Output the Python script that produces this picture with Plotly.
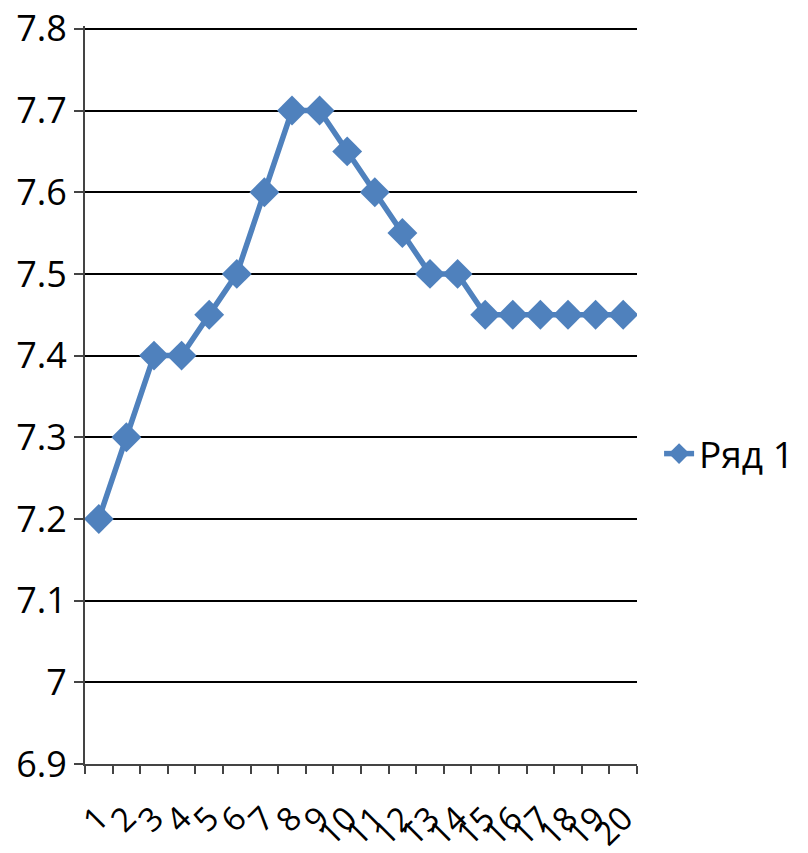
import plotly.graph_objects as go

categories = [str(i) for i in range(1, 21)]
values = [7.2, 7.3, 7.4, 7.4, 7.45, 7.5, 7.6, 7.7, 7.7, 7.65,
          7.6, 7.55, 7.5, 7.5, 7.45, 7.45, 7.45, 7.45, 7.45, 7.45]
y_ticks = [6.9, 7.0, 7.1, 7.2, 7.3, 7.4, 7.5, 7.6, 7.7, 7.8]
y_labels = ["6.9", "7", "7.1", "7.2", "7.3", "7.4", "7.5", "7.6", "7.7", "7.8"]

fig = go.Figure()
fig.add_trace(go.Scatter(
    x=categories, y=values, mode="lines+markers", name="Ряд 1",
    line=dict(color="#4F81BD", width=5.5),
    marker=dict(symbol="diamond", size=23, color="#4F81BD"),
))
fig.update_layout(
    width=808, height=853,
    margin=dict(l=77, r=179, t=18, b=97),
    paper_bgcolor="white", plot_bgcolor="white",
    font=dict(family="Open Sans", size=36, color="black"),
    showlegend=True,
    legend=dict(x=1.04, y=0.42, xanchor="left", yanchor="middle",
                font=dict(size=37), itemwidth=30),
)
fig.update_xaxes(
    type="category", tickangle=-45, tickson="boundaries",
    tickmode="array", tickvals=categories, ticktext=categories,
    range=[-0.5, 19.5], automargin=False, ticklabelstandoff=20,
    ticklabeloverflow="allow",
    ticks="outside", ticklen=8, tickcolor="#444", tickwidth=2,
    showline=True, linecolor="#444", linewidth=2,
    showgrid=False, tickfont=dict(size=33),
)
fig.update_yaxes(
    range=[6.9, 7.8035], tickvals=y_ticks, ticktext=y_labels, automargin=False,
    ticklabeloverflow="allow",
    ticks="outside", ticklen=9, tickcolor="#444", tickwidth=2,
    showline=True, linecolor="#444", linewidth=2,
    showgrid=True, gridcolor="black", gridwidth=1.5,
    zeroline=False, tickfont=dict(size=36),
)
fig.write_html("out.html")
